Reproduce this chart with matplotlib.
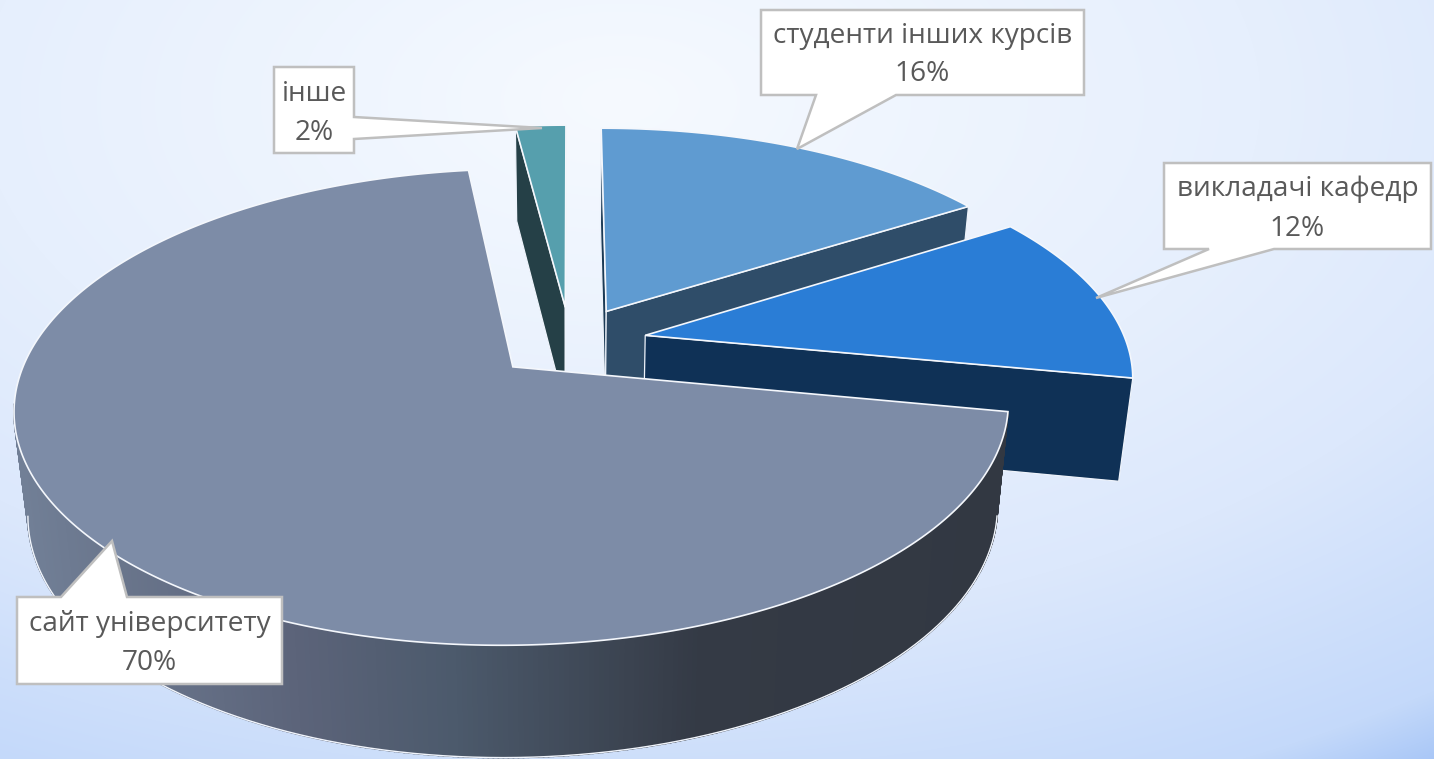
import numpy as np
import matplotlib
matplotlib.use("Agg")
import matplotlib.pyplot as plt
from matplotlib.patches import Polygon
from matplotlib.colors import to_rgb

# ---- data (clockwise order from the start angle) ----
labels = ["інше", "студенти інших курсів", "викладачі кафедр", "сайт університету"]
values = [2, 16, 12, 70]
top_colors = ["#569fad", "#5f9bd1", "#2a7dd6", "#7d8ca7"]
side_colors = ["#254047", "#2f4d69", "#0f3156", "#333a45"]
near_wall_colors = ["#254047", "#1b3a55", "#0f3156", "#333a45"]
wall_margin = [0.0, 0.0, 0.0, 0.2]

START_ANGLE = 97.2
EXPLODE = 0.16

W, H = 1434, 759
X0, Y0, BX, BY, K = 570.0, 342.0, 481.0, 223.0, 0.166
SHRINK, DROP, DROP_SLOPE = 0.975, 102.0, 0.034

fig = plt.figure(figsize=(W / 100, H / 100), dpi=100)
ax = fig.add_axes([0, 0, 1, 1])
ax.set_xlim(0, W)
ax.set_ylim(H, 0)
ax.axis("off")

# ---- background ----
yy, xx = np.mgrid[0:H, 0:W]
dist = np.hypot(xx - 620, (yy - 100) * 1.8)
stops = [0, 640, 950, 1338, 1438]
cols = np.array([to_rgb(c) for c in ["#f6faff", "#e6effd", "#dce8fc", "#c4d9fa", "#a9c7f7"]])
bg = np.stack([np.interp(dist, stops, cols[:, i]) for i in range(3)], axis=-1)
ax.imshow(bg, extent=(0, W, H, 0), aspect="auto", zorder=0)


def project(x, y):
    x, y = np.asarray(x, float), np.asarray(y, float)
    w = 1 + K * y
    return X0 + BX * x / w, Y0 - BY * y / w


def lower(sx, sy):
    return X0 + (sx - X0) * SHRINK, sy + DROP + DROP_SLOPE * (sy - Y0)


wall_cmap_x = [20, 300, 450, 700, 1010]
wall_cmap_c = np.array([to_rgb(c) for c in ["#717f96", "#5b6379", "#4c5a6c", "#343a45", "#323842"]])


def wall_color(x, slice_idx):
    if slice_idx == 3:
        return tuple(np.interp(x, wall_cmap_x, wall_cmap_c[:, i]) for i in range(3))
    return side_colors[slice_idx]


def radial_wall(ax_pt, rim_pt, color, z):
    xa, ya = project(*ax_pt)
    xr, yr = project(*rim_pt)
    xa2, ya2 = lower(xa, ya)
    xr2, yr2 = lower(xr, yr)
    ax.add_patch(Polygon([(xa, ya), (xr, yr), (xr2, yr2), (xa2, ya2)], closed=True,
                         facecolor=color, edgecolor="#eef3fb", lw=0.9, zorder=z))


D = 1 / K
angles = START_ANGLE - np.concatenate([[0], np.cumsum(values)]) * 3.6
for i in range(len(values)):
    a1, a2 = angles[i], angles[i + 1]
    mid = np.radians((a1 + a2) / 2)
    off = np.array([np.cos(mid), np.sin(mid)]) * EXPLODE
    z = 2 + i * 2
    th = np.radians(np.linspace(a1, a2, max(int(abs(a1 - a2) * 2), 8)))
    px = off[0] + np.cos(th)
    py = off[1] + np.sin(th)
    sx, sy = project(px, py)
    bx, by = lower(sx, sy)

    # outer wall: only the part that faces the viewer
    facing = -D * np.sin(th) - (off[0] * np.cos(th) + off[1] * np.sin(th)) - 1
    vis = facing > -wall_margin[i]
    for j in range(len(th) - 1):
        if vis[j] or vis[j + 1]:
            c = wall_color((sx[j] + sx[j + 1]) / 2, i)
            ax.add_patch(Polygon([(sx[j], sy[j]), (sx[j + 1], sy[j + 1]),
                                  (bx[j + 1], by[j + 1]), (bx[j], by[j])], closed=True,
                                 facecolor=c, edgecolor=c, lw=1.2, zorder=z))
    idx = np.where(facing > 0)[0]
    if len(idx):
        ax.plot(bx[idx], by[idx], color="#f2f6fd", lw=1.0, zorder=z)

    # radial walls that face the viewer
    viewer = np.array([0, -D])
    for ang, sign, col in ((a1, 90, near_wall_colors[i]), (a2, -90, side_colors[i])):
        r = np.radians(ang)
        n = np.radians(ang + sign)
        if np.dot([np.cos(n), np.sin(n)], viewer - off) > 0:
            radial_wall(off, off + [np.cos(r), np.sin(r)], col, z)

    # top face
    tx = np.concatenate([[off[0]], px])
    ty = np.concatenate([[off[1]], py])
    qx, qy = project(tx, ty)
    ax.add_patch(Polygon(np.column_stack([qx, qy]), closed=True, facecolor=top_colors[i],
                         edgecolor="#f4f7fc", lw=1.2, joinstyle="miter", zorder=z + 1))

# ---- callouts ----
LW = 1.8
box_specs = [
    ((274, 67, 354, 153), [(354, 117), (542, 128), (354, 139)]),
    ((761, 10, 1084, 95), [(896, 95), (797, 149), (816, 95)]),
    ((1164, 163, 1431, 249), [(1274, 249), (1096, 298), (1209, 249)]),
    ((17, 597, 282, 684), [(61, 597), (112, 541), (127, 597)]),
]
text_y = [(93, 132), (35, 73), (188, 228), (623, 662)]
for i, ((x0, y0, x1, y1), ptr) in enumerate(box_specs):
    if ptr[0][0] == x1:      # pointer on right side
        verts = [(x0, y0), (x1, y0)] + ptr + [(x1, y1), (x0, y1)]
    elif ptr[0][1] == y1:    # pointer on bottom side
        verts = [(x0, y0), (x1, y0), (x1, y1)] + ptr + [(x0, y1)]
    else:                    # pointer on top side
        verts = [(x0, y0)] + ptr + [(x1, y0), (x1, y1), (x0, y1)]
    ax.add_patch(Polygon(verts, closed=True, facecolor="white", edgecolor="#bfbfbf",
                         lw=LW, joinstyle="miter", zorder=20))
    cx = (x0 + x1) / 2
    ax.text(cx, text_y[i][0] + 1, labels[i], ha="center", va="center", fontsize=20.2,
            family="Open Sans", color="#595959", zorder=21)
    ax.text(cx, text_y[i][1] + 1, f"{values[i]}%", ha="center", va="center", fontsize=20.2,
            family="Open Sans", color="#595959", zorder=21)

fig.savefig("out.png", dpi=100)
